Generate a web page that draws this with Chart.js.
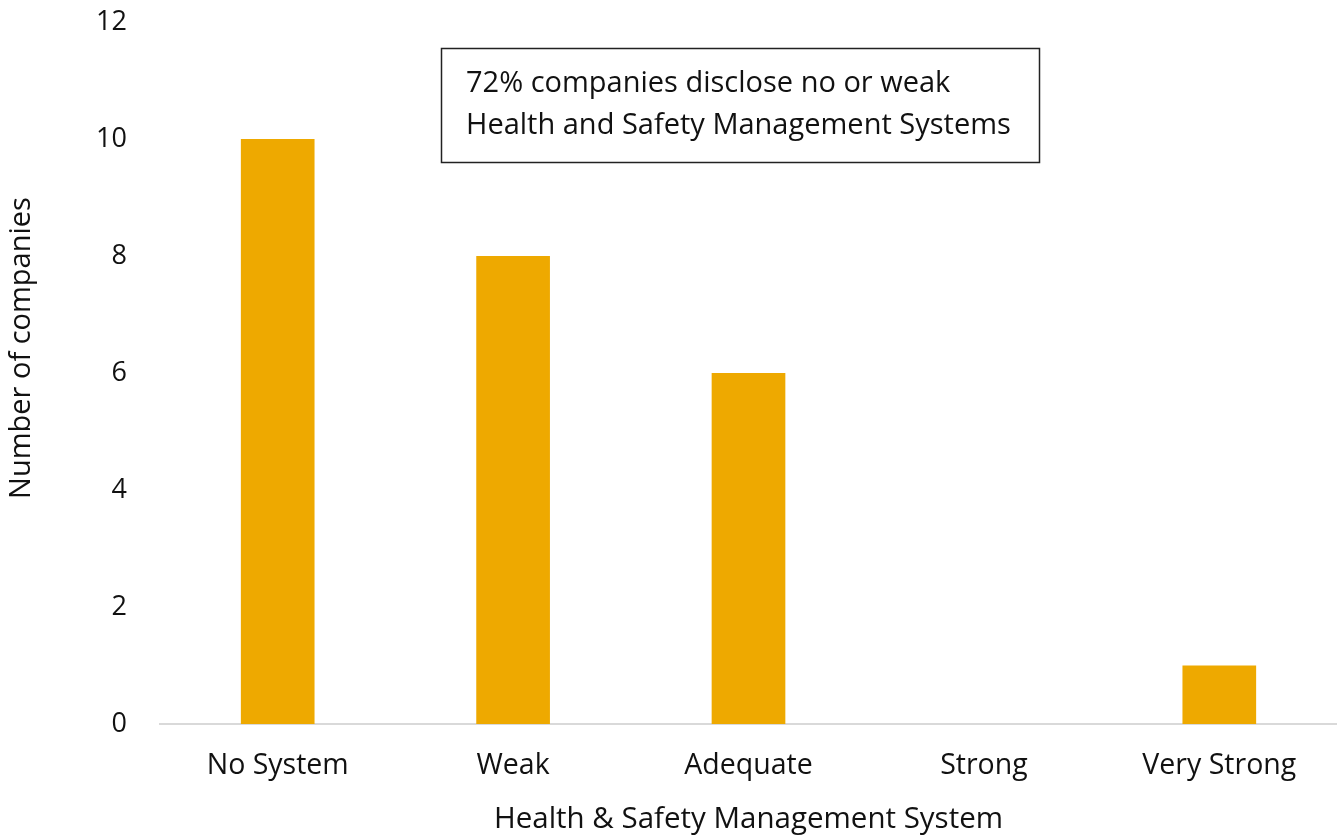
<!DOCTYPE html>
<html>
<head>
<meta charset="utf-8">
<script src="https://cdn.jsdelivr.net/npm/chart.js@4/dist/chart.umd.min.js"></script>
<style>
html,body{margin:0;padding:0;background:#fff;}
#wrap{width:1337px;height:837px;position:relative;}
</style>
</head>
<body>
<div id="wrap"><canvas id="c" width="1337" height="837"></canvas></div>
<script>
const categories = ["No System", "Weak", "Adequate", "Strong", "Very Strong"];
const companies = [10, 8, 6, 0, 1];
const yTicks = [0, 2, 4, 6, 8, 10, 12];
const noteLines = ["72% companies disclose no or weak", "Health and Safety Management Systems"];
const xTitle = "Health & Safety Management System";
const yTitle = "Number of companies";

const FONT = "'Open Sans', 'Noto Sans', sans-serif";
const TXT = '#111';

const notePlugin = {
  id: 'note',
  afterDraw(chart) {
    const ctx = chart.ctx;
    ctx.save();
    ctx.strokeStyle = '#222';
    ctx.lineWidth = 1.5;
    ctx.strokeRect(441.5, 48.5, 598, 114);
    ctx.fillStyle = TXT;
    ctx.font = "29px " + FONT;
    ctx.textBaseline = 'middle';
    ctx.textAlign = 'left';
    ctx.fillText(noteLines[0], 466, 84);
    ctx.fillText(noteLines[1], 466, 126);
    // y axis title
    ctx.translate(22, 348);
    ctx.rotate(-Math.PI / 2);
    ctx.textAlign = 'center';
    ctx.font = "29px " + FONT;
    ctx.fillText(yTitle, 0, 0);
    ctx.restore();
  }
};

new Chart(document.getElementById('c'), {
  type: 'bar',
  data: {
    labels: categories,
    datasets: [{
      data: companies,
      backgroundColor: '#EEA900',
      borderWidth: 0,
      barPercentage: 0.313,
      categoryPercentage: 1.0
    }]
  },
  options: {
    responsive: false,
    animation: false,
    devicePixelRatio: 1,
    layout: { padding: { top: 22, right: 0, left: 0, bottom: 0 } },
    plugins: { legend: { display: false }, tooltip: { enabled: false } },
    scales: {
      x: {
        grid: { display: false, drawTicks: false },
        border: { display: true, color: '#d9d9d9', width: 2 },
        ticks: { color: TXT, font: { family: FONT, size: 28.5 }, padding: 25, maxRotation: 0 },
        title: { display: true, text: xTitle, color: TXT, font: { family: FONT, size: 29.5 }, padding: { top: 6, bottom: 0 } },
        afterFit(scale) { scale.height = 113; scale.paddingLeft = 0; scale.paddingRight = 0; }
      },
      y: {
        min: 0, max: 12,
        afterBuildTicks(scale) { scale.ticks = yTicks.map(v => ({ value: v })); },
        grid: { display: false, drawTicks: false },
        border: { display: false },
        ticks: { color: TXT, font: { family: FONT, size: 27 }, padding: 33 },
        title: { display: false },
        afterFit(scale) { scale.width = 160; scale.paddingTop = 0; scale.paddingBottom = 0; }
      }
    }
  },
  plugins: [notePlugin]
});
</script>
</body>
</html>
